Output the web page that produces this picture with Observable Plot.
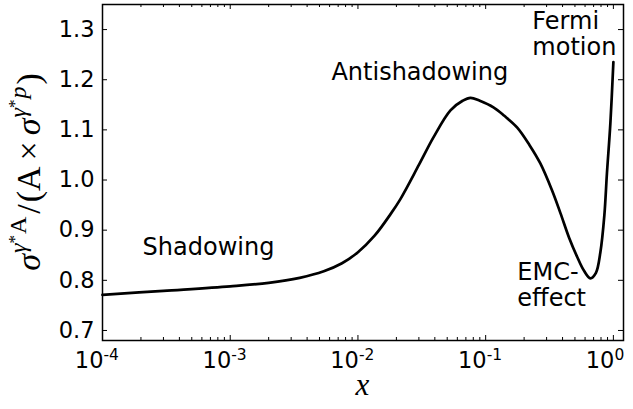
<!DOCTYPE html>
<html>
<head>
<meta charset="utf-8">
<script src="https://cdn.jsdelivr.net/npm/d3@7"></script>
<script src="https://cdn.jsdelivr.net/npm/@observablehq/plot@0.6"></script>
<style>
  html, body { margin: 0; padding: 0; background: #fff; }
  #chart svg { display: block; }
</style>
</head>
<body>
<div id="chart"></div>
<script>
// Nuclear structure-function ratio versus Bjorken x
const ratioX = [1e-4, 3e-4, 1e-3, 2e-3, 3.5e-3, 5.4e-3, 7.5e-3, 0.01, 0.0135, 0.018, 0.0215,
  0.03, 0.039, 0.053, 0.066, 0.076, 0.09, 0.115, 0.14, 0.176, 0.22, 0.268, 0.33, 0.385,
  0.45, 0.52, 0.586, 0.66, 0.73, 0.79, 0.85, 0.89, 0.947, 1.0];
const ratioY = [0.771, 0.779, 0.788, 0.795, 0.805, 0.818, 0.834, 0.856, 0.889, 0.932, 0.962,
  1.030, 1.085, 1.139, 1.158, 1.164, 1.158, 1.145, 1.128, 1.105, 1.07, 1.033, 0.98, 0.934,
  0.885, 0.847, 0.82, 0.804, 0.815, 0.855, 0.93, 1.013, 1.113, 1.235];

// Axis ticks
const xMajor = [1e-4, 1e-3, 1e-2, 1e-1, 1];
const xExponents = ["-4", "-3", "-2", "-1", "0"];
const xMinor = [2, 3, 4, 5, 6, 7, 8, 9].flatMap(m => [1e-4, 1e-3, 1e-2, 1e-1].map(p => m * p));
const yMajor = [0.7, 0.8, 0.9, 1.0, 1.1, 1.2, 1.3];

// Region annotations (anchored at the baseline of their last line)
const noteText = ["Shadowing", "Antishadowing", "EMC-\neffect", "Fermi\nmotion"];
const noteX = [2.06e-4, 6.2e-3, 0.177, 0.232];
const noteY = [0.850, 1.200, 0.749, 1.250];
const noteLineHeight = [1, 1, 1.08, 1.08];

const curve = ratioX.map((x, i) => ({x, y: ratioY[i]}));
const notes = noteText.map((t, i) => ({t, x: noteX[i], y: noteY[i], lh: noteLineHeight[i]}));

const W = 633, H = 409;
const mL = 102, mR = 10, mT = 4, mB = 69;
const plotW = W - mL - mR, plotH = H - mT - mB;
const sans = "'DejaVu Sans', sans-serif";

const chart = Plot.plot({
  width: W,
  height: H,
  marginLeft: mL,
  marginRight: mR,
  marginTop: mT,
  marginBottom: mB,
  style: {fontFamily: sans, background: "#fff", color: "#000", overflow: "visible"},
  x: {type: "log", domain: [1e-4, 1.2], axis: null},
  y: {domain: [0.68, 1.35], axis: null},
  marks: [
    // inward ticks on all four sides
    Plot.tickX(xMajor, {x: d => d, insetTop: plotH - 5, stroke: "#000", strokeWidth: 1}),
    Plot.tickX(xMajor, {x: d => d, insetBottom: plotH - 5, stroke: "#000", strokeWidth: 1}),
    Plot.tickX(xMinor, {x: d => d, insetTop: plotH - 3, stroke: "#000", strokeWidth: 1}),
    Plot.tickX(xMinor, {x: d => d, insetBottom: plotH - 3, stroke: "#000", strokeWidth: 1}),
    Plot.tickY(yMajor, {y: d => d, insetRight: plotW - 5, stroke: "#000", strokeWidth: 1}),
    Plot.tickY(yMajor, {y: d => d, insetLeft: plotW - 5, stroke: "#000", strokeWidth: 1}),
    // y tick labels
    Plot.text(yMajor, {y: d => d, text: d => d.toFixed(1), frameAnchor: "left",
      textAnchor: "end", dx: -8, fontSize: 22.5, fill: "#000"}),
    // x tick labels as 10 with a raised exponent
    Plot.text(xMajor, {x: d => d, text: () => "10", frameAnchor: "bottom",
      textAnchor: "end", lineAnchor: "bottom", dx: 1, dy: 27.5, fontSize: 22.5, fill: "#000"}),
    Plot.text(xMajor, {x: d => d, text: (d, i) => xExponents[i], frameAnchor: "bottom",
      textAnchor: "start", lineAnchor: "bottom", dx: 1, dy: 19, fontSize: 15.5, fill: "#000"}),
    // the ratio curve
    Plot.line(curve, {x: "x", y: "y", curve: "catmull-rom", stroke: "#000", strokeWidth: 2.7}),
    // region labels
    ...notes.map(n => Plot.text([n], {x: "x", y: "y", text: "t", textAnchor: "start",
      lineAnchor: "bottom", lineHeight: n.lh, fontSize: 24, fill: "#000"})),
    Plot.frame({stroke: "#000", strokeWidth: 1.5})
  ]
});

// Axis titles in math-style serif type
const svg = d3.select(chart);
const serif = "'Liberation Serif', 'DejaVu Serif', serif";

svg.append("text")
  .attr("x", mL + plotW / 2)
  .attr("y", 395)
  .attr("text-anchor", "middle")
  .attr("font-family", serif)
  .attr("font-style", "italic")
  .attr("font-size", 31)
  .attr("fill", "#000")
  .text("x");

const yl = svg.append("text")
  .attr("transform", `translate(40,${mT + plotH / 2}) rotate(-90)`)
  .attr("text-anchor", "middle")
  .attr("font-family", serif)
  .attr("font-size", 34)
  .attr("fill", "#000");
const part = (txt, opts = {}) => {
  const t = yl.append("tspan").text(txt);
  if (opts.italic) t.attr("font-style", "italic");
  if (opts.size) t.attr("font-size", opts.size);
  if (opts.dy) t.attr("dy", opts.dy);
  if (opts.dx) t.attr("dx", opts.dx);
  return t;
};
part("σ", {italic: true});
part("γ", {italic: true, size: 24, dy: -14, dx: 1});
part("*", {size: 17, dy: -6});
part("A", {size: 24, dy: 6, dx: 1});
part("/", {dy: 14, dx: 3});
part("(", {dx: 2});
part("A");
part("×", {dx: 6});
part("σ", {italic: true, dx: 6});
part("γ", {italic: true, size: 24, dy: -14, dx: 1});
part("*", {size: 17, dy: -6});
part("p", {italic: true, size: 24, dy: 6, dx: 1});
part(")", {dy: 14, dx: 2});

document.getElementById("chart").appendChild(chart);
</script>
</body>
</html>
